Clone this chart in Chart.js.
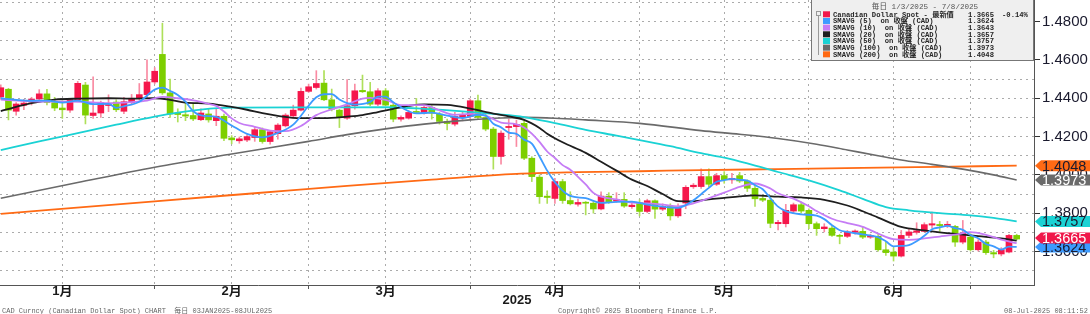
<!DOCTYPE html>
<html>
<head>
<meta charset="utf-8">
<script src="https://cdn.jsdelivr.net/npm/chart.js@4.4.0/dist/chart.umd.min.js"></script>
<style>
  html, body { margin: 0; padding: 0; background: #fff; }
  #wrap { width: 1090px; height: 314px; }
</style>
</head>
<body>
<div id="wrap"><canvas id="canvas" width="1090" height="314"></canvas></div>
<script>
// USD/CAD daily candles, 03 Jan 2025 .. 08 Jul 2025 (x = trading day index)
var openP = [
  1.4407,1.4447,1.4332,1.4363,1.4380,1.4396,1.4423,1.4377,1.4349,1.4338,
  1.4392,1.4469,1.4310,1.4323,1.4362,1.4380,1.4332,1.4378,1.4399,1.4419,
  1.4485,1.4629,1.4428,1.4322,1.4314,1.4310,1.4288,1.4318,1.4283,1.4306,
  1.4193,1.4178,1.4182,1.4195,1.4236,1.4174,1.4215,1.4256,1.4308,1.4338,
  1.4436,1.4456,1.4479,1.4392,1.4338,1.4296,1.4361,1.4441,1.4434,1.4369,
  1.4439,1.4364,1.4291,1.4296,1.4330,1.4322,1.4352,1.4317,1.4279,1.4265,
  1.4300,1.4305,1.4387,1.4300,1.4239,1.4096,1.4247,1.4252,1.4269,1.4087,
  1.3988,1.3889,1.3877,1.3965,1.3866,1.3847,1.3856,1.3852,1.3822,1.3889,
  1.3863,1.3872,1.3834,1.3856,1.3809,1.3865,1.3821,1.3835,1.3786,1.3853,
  1.3938,1.3939,1.3991,1.3951,1.3996,1.3974,1.3996,1.3968,1.3930,1.3877,
  1.3868,1.3745,1.3745,1.3811,1.3844,1.3815,1.3745,1.3719,1.3722,1.3684,
  1.3679,1.3700,1.3705,1.3675,1.3679,1.3609,1.3597,1.3576,1.3684,1.3700,
  1.3705,1.3738,1.3741,1.3736,1.3731,1.3649,1.3675,1.3609,1.3649,1.3594,
  1.3587,1.3597,1.3684
];
var highP = [
  1.4470,1.4452,1.4377,1.4395,1.4405,1.4445,1.4447,1.4405,1.4387,1.4396,
  1.4488,1.4483,1.4512,1.4385,1.4418,1.4392,1.4405,1.4420,1.4477,1.4600,
  1.4560,1.4792,1.4500,1.4345,1.4378,1.4370,1.4345,1.4344,1.4344,1.4318,
  1.4205,1.4198,1.4210,1.4250,1.4245,1.4232,1.4268,1.4320,1.4364,1.4453,
  1.4474,1.4544,1.4544,1.4448,1.4343,1.4498,1.4474,1.4521,1.4483,1.4451,
  1.4451,1.4378,1.4308,1.4334,1.4399,1.4361,1.4361,1.4326,1.4291,1.4326,
  1.4329,1.4396,1.4416,1.4317,1.4248,1.4230,1.4291,1.4286,1.4283,1.4095,
  1.4000,1.3917,1.3982,1.3977,1.3912,1.3873,1.3861,1.3861,1.3912,1.3907,
  1.3907,1.3907,1.3851,1.3870,1.3873,1.3870,1.3849,1.3849,1.3849,1.3944,
  1.3955,1.4031,1.4031,1.4008,1.4017,1.4008,1.4013,1.3974,1.3956,1.3894,
  1.3886,1.3762,1.3846,1.3853,1.3858,1.3823,1.3754,1.3745,1.3736,1.3690,
  1.3710,1.3713,1.3727,1.3690,1.3690,1.3649,1.3620,1.3710,1.3719,1.3750,
  1.3750,1.3806,1.3757,1.3757,1.3736,1.3762,1.3693,1.3662,1.3658,1.3606,
  1.3620,1.3690,1.3690
];
var lowP = [
  1.4395,1.4287,1.4312,1.4340,1.4365,1.4385,1.4365,1.4335,1.4295,1.4326,
  1.4387,1.4266,1.4295,1.4300,1.4330,1.4330,1.4320,1.4370,1.4390,1.4405,
  1.4475,1.4420,1.4300,1.4276,1.4283,1.4283,1.4283,1.4275,1.4257,1.4179,
  1.4162,1.4165,1.4173,1.4175,1.4165,1.4160,1.4187,1.4250,1.4300,1.4334,
  1.4430,1.4448,1.4387,1.4334,1.4247,1.4290,1.4343,1.4430,1.4361,1.4361,
  1.4361,1.4277,1.4280,1.4291,1.4322,1.4317,1.4291,1.4265,1.4235,1.4256,
  1.4282,1.4291,1.4291,1.4230,1.4030,1.4056,1.4186,1.4148,1.4080,1.3965,
  1.3851,1.3851,1.3851,1.3851,1.3843,1.3837,1.3791,1.3800,1.3817,1.3851,
  1.3856,1.3830,1.3825,1.3786,1.3802,1.3772,1.3813,1.3764,1.3778,1.3823,
  1.3929,1.3929,1.3939,1.3944,1.3956,1.3956,1.3960,1.3913,1.3835,1.3860,
  1.3724,1.3712,1.3728,1.3797,1.3800,1.3719,1.3684,1.3702,1.3679,1.3640,
  1.3672,1.3690,1.3667,1.3668,1.3602,1.3580,1.3550,1.3571,1.3672,1.3690,
  1.3702,1.3722,1.3705,1.3725,1.3626,1.3640,1.3602,1.3602,1.3585,1.3567,
  1.3577,1.3592,1.3660
];
var closeP = [
  1.4455,1.4338,1.4370,1.4375,1.4396,1.4423,1.4378,1.4349,1.4340,1.4393,
  1.4478,1.4312,1.4323,1.4377,1.4367,1.4340,1.4382,1.4400,1.4419,1.4485,
  1.4541,1.4428,1.4318,1.4315,1.4307,1.4292,1.4323,1.4287,1.4306,1.4191,
  1.4183,1.4188,1.4200,1.4236,1.4174,1.4225,1.4260,1.4312,1.4338,1.4436,
  1.4460,1.4477,1.4392,1.4343,1.4300,1.4361,1.4439,1.4434,1.4369,1.4439,
  1.4364,1.4291,1.4300,1.4326,1.4326,1.4352,1.4322,1.4279,1.4268,1.4305,
  1.4312,1.4387,1.4300,1.4239,1.4096,1.4218,1.4253,1.4264,1.4087,1.3991,
  1.3886,1.3882,1.3965,1.3866,1.3849,1.3856,1.3852,1.3822,1.3889,1.3860,
  1.3872,1.3837,1.3842,1.3809,1.3865,1.3821,1.3835,1.3786,1.3835,1.3935,
  1.3946,1.3991,1.3951,1.3996,1.3974,1.3982,1.3968,1.3930,1.3875,1.3868,
  1.3747,1.3752,1.3815,1.3844,1.3811,1.3745,1.3719,1.3728,1.3684,1.3679,
  1.3702,1.3707,1.3675,1.3682,1.3609,1.3594,1.3576,1.3684,1.3702,1.3708,
  1.3740,1.3745,1.3735,1.3742,1.3649,1.3696,1.3609,1.3649,1.3594,1.3587,
  1.3609,1.3684,1.3665
];

// moving averages at these trading-day indexes
var sma5Idx = [0,2,4,6,8,10,12,14,15,16,18,20,21,22,23,24,25,26,28,30,32,34,36,38,40,41,42,43,44,45,46,48,49,50,51,52,54,56,58,60,62,63,64,65,66,67,68,69,70,71,72,73,74,76,78,80,82,84,86,88,89,90,91,92,93,94,95,96,97,98,99,100,101,102,104,106,107,108,109,110,112,114,115,116,117,118,119,120,121,122,123,124,125,126,127,128,129,130,131,132];
var sma5Val = [1.4400,1.4392,1.4387,1.4388,1.4377,1.4388,1.4369,1.4371,1.4350,1.4358,1.4382,1.4445,1.4455,1.4438,1.4417,1.4382,1.4332,1.4311,1.4303,1.4258,1.4214,1.4196,1.4219,1.4262,1.4361,1.4405,1.4421,1.4422,1.4394,1.4375,1.4367,1.4381,1.4408,1.4409,1.4379,1.4353,1.4321,1.4325,1.4309,1.4297,1.4314,1.4309,1.4267,1.4248,1.4221,1.4214,1.4184,1.4163,1.4096,1.4022,1.3962,1.3918,1.3890,1.3878,1.3854,1.3859,1.3860,1.3845,1.3834,1.3828,1.3842,1.3867,1.3899,1.3932,1.3964,1.3972,1.3979,1.3974,1.3970,1.3946,1.3925,1.3878,1.3834,1.3811,1.3794,1.3787,1.3769,1.3737,1.3711,1.3702,1.3689,1.3675,1.3653,1.3627,1.3629,1.3633,1.3653,1.3682,1.3716,1.3726,1.3734,1.3722,1.3713,1.3686,1.3669,1.3639,1.3627,1.3610,1.3625,1.3624];

var sma10Idx = [0,3,6,9,12,14,17,19,21,23,25,27,28,29,30,31,33,35,37,39,41,43,45,47,48,50,52,55,57,59,61,63,65,67,68,69,70,71,72,73,74,75,76,77,78,80,82,84,86,88,90,92,94,96,98,100,101,103,105,106,108,110,112,114,116,118,120,122,124,126,128,130,132];
var sma10Val = [1.4393,1.4386,1.4382,1.4382,1.4379,1.4374,1.4380,1.4388,1.4407,1.4400,1.4389,1.4371,1.4360,1.4331,1.4295,1.4271,1.4251,1.4231,1.4228,1.4255,1.4312,1.4342,1.4368,1.4398,1.4402,1.4392,1.4364,1.4364,1.4337,1.4313,1.4318,1.4309,1.4273,1.4264,1.4247,1.4215,1.4172,1.4122,1.4088,1.4051,1.4027,1.3990,1.3950,1.3906,1.3886,1.3872,1.3855,1.3851,1.3845,1.3836,1.3851,1.3878,1.3907,1.3937,1.3955,1.3929,1.3904,1.3876,1.3836,1.3811,1.3771,1.3748,1.3729,1.3693,1.3664,1.3661,1.3668,1.3678,1.3688,1.3701,1.3687,1.3662,1.3643];

var sma20Idx = [0,2,4,7,10,14,17,20,22,24,27,30,32,34,36,39,42,45,47,49,51,53,55,58,61,64,66,68,70,71,73,76,78,80,82,84,86,88,90,92,94,96,98,101,104,107,110,112,114,117,120,122,124,127,130,132];
var sma20Val = [1.4333,1.4355,1.4375,1.4393,1.4398,1.4400,1.4398,1.4400,1.4392,1.4377,1.4372,1.4355,1.4340,1.4322,1.4308,1.4296,1.4296,1.4304,1.4312,1.4328,1.4345,1.4360,1.4368,1.4365,1.4346,1.4320,1.4305,1.4287,1.4245,1.4215,1.4170,1.4115,1.4068,1.4022,1.3975,1.3942,1.3900,1.3863,1.3862,1.3872,1.3880,1.3888,1.3893,1.3886,1.3882,1.3870,1.3840,1.3810,1.3777,1.3728,1.3710,1.3700,1.3692,1.3680,1.3668,1.3657];

var sma50Idx = [0,5,10,15,20,23,26,30,40,50,55,60,64,68,72,76,80,83,87,91,94,97,101,105,109,112,115,118,122,126,129,132];
var sma50Val = [1.4129,1.4175,1.4218,1.4262,1.4304,1.4325,1.4341,1.4351,1.4352,1.4353,1.4345,1.4332,1.4318,1.4302,1.4270,1.4235,1.4205,1.4182,1.4150,1.4113,1.4090,1.4060,1.4015,1.3971,1.3919,1.3875,1.3832,1.3815,1.3800,1.3789,1.3775,1.3757];

var sma100Idx = [0,10,20,30,40,45,50,55,61,65,68,72,76,83,91,96,101,106,110,114,117,121,125,129,132];
var sma100Val = [1.3878,1.3960,1.4040,1.4109,1.4175,1.4210,1.4240,1.4265,1.4287,1.4297,1.4300,1.4296,1.4287,1.4269,1.4231,1.4212,1.4190,1.4160,1.4130,1.4100,1.4078,1.4055,1.4030,1.4000,1.3973];

var sma200Idx = [0,20,33,45,56,67,75,83,91,101,112,122,132];
var sma200Val = [1.3796,1.3862,1.3904,1.3943,1.3975,1.4005,1.4014,1.4019,1.4025,1.4030,1.4036,1.4042,1.4048];

// legend rows and latest values
var legendNames = ['Canadian Dollar Spot - 最新價','SMAVG (5)  on 收盤 (CAD)','SMAVG (10)  on 收盤 (CAD)','SMAVG (20)  on 收盤 (CAD)','SMAVG (50)  on 收盤 (CAD)','SMAVG (100)  on 收盤 (CAD)','SMAVG (200)  on 收盤 (CAD)'];
var lastValues = [1.3665, 1.3624, 1.3643, 1.3657, 1.3757, 1.3973, 1.4048];
var lastChange = '-0.14%';

// x axis: month middles carry the label, month ends carry a tick mark
var monthMid = [8, 30, 50, 72, 94, 116];
var monthEnd = [20, 40, 61, 83, 105, 126];
var monthNames = ['1月','2月','3月','4月','5月','6月'];

var colors = {
  up: '#f5174b', down: '#7dcf00', upWick: '#f98aa2', downWick: '#aee05a',
  spot: '#f0174a', s5: '#3d9bff', s10: '#c57cf5', s20: '#1e1e1e',
  s50: '#1ad2d4', s100: '#6a6a6a', s200: '#ff6a14'
};
var seriesColors = [colors.spot, colors.s5, colors.s10, colors.s20, colors.s50, colors.s100, colors.s200];

function pts(idx, val) {
  return idx.map(function (x, k) { return {x: x, y: val[k]}; });
}
function lineSet(idx, val, color, width, order) {
  return {
    type: 'line', data: pts(idx, val), borderColor: color, borderWidth: width,
    pointRadius: 0, cubicInterpolationMode: 'monotone', order: order, fill: false
  };
}

var isUp = openP.map(function (o, i) { return closeP[i] >= o; });

var bbgOverlay = {
  id: 'bbgOverlay',
  afterDraw: function (chart) {
    var ctx = chart.ctx;
    var y = chart.scales.y;
    ctx.save();

    // value tags on the right axis; nudge tags that sit too close together
    var tags = [
      {v: lastValues[6], bg: colors.s200, fg: '#1a1a2e'},
      {v: lastValues[5], bg: colors.s100, fg: '#ffffff'},
      {v: lastValues[4], bg: colors.s50, fg: '#1a1a2e'},
      {v: lastValues[1], bg: colors.s5, fg: '#1a1a2e'},
      {v: lastValues[0], bg: colors.spot, fg: '#ffffff'}
    ];
    tags.forEach(function (t) { t.py = y.getPixelForValue(t.v); });
    var sorted = tags.slice().sort(function (a, b) { return b.py - a.py; });
    for (var s = 1; s < sorted.length; s++) {
      if (sorted[s].py > sorted[s - 1].py - 9) sorted[s].py = sorted[s - 1].py - 9;
    }
    ctx.font = '14.5px "Liberation Sans", Arial, sans-serif';
    ctx.textBaseline = 'middle';
    ctx.textAlign = 'left';
    tags.forEach(function (t) {
      var py = t.py;
      ctx.fillStyle = t.bg;
      ctx.beginPath();
      ctx.moveTo(1035, py);
      ctx.lineTo(1041, py - 5.5);
      ctx.lineTo(1090, py - 5.5);
      ctx.lineTo(1090, py + 5.5);
      ctx.lineTo(1041, py + 5.5);
      ctx.closePath();
      ctx.fill();
      ctx.fillStyle = t.fg;
      ctx.fillText(t.v.toFixed(4), 1042, py + 1);
    });

    // legend box
    var bx = 811, by = 0, bw = 223, bh = 61;
    ctx.fillStyle = '#efefef';
    ctx.fillRect(bx, by, bw, bh);
    ctx.strokeStyle = '#777';
    ctx.lineWidth = 1;
    ctx.strokeRect(bx + 0.5, by - 0.5, bw - 1, bh);
    ctx.font = '7.6px "Liberation Mono", "Noto Sans CJK TC", monospace';
    ctx.fillStyle = '#555';
    ctx.textAlign = 'center';
    ctx.fillText('毎日 1/3/2025 - 7/8/2025', 925, 7);
    // little tree marker
    ctx.strokeStyle = '#999';
    ctx.strokeRect(816.5, 11.5, 4, 4);
    ctx.beginPath();
    ctx.moveTo(818.5, 16); ctx.lineTo(818.5, 55);
    ctx.stroke();
    ctx.font = 'bold 7.2px "Liberation Mono", "Noto Sans CJK TC", monospace';
    for (var k = 0; k < legendNames.length; k++) {
      var ry = 14.3 + k * 6.67;
      ctx.fillStyle = seriesColors[k];
      ctx.fillRect(823, ry - 3, 7, 6);
      ctx.fillStyle = '#262626';
      ctx.textAlign = 'left';
      ctx.fillText(legendNames[k], 833, ry + 0.5);
      ctx.textAlign = 'right';
      ctx.fillText(lastValues[k].toFixed(4), 994, ry + 0.5);
    }
    ctx.textAlign = 'left';
    ctx.fillText(lastChange, 1002, 14.8);

    // footer
    ctx.font = '7px "Liberation Mono", "Noto Sans CJK JP", monospace';
    ctx.fillStyle = '#666';
    ctx.textAlign = 'left';
    ctx.fillText('CAD Curncy (Canadian Dollar Spot) CHART  毎日 03JAN2025-08JUL2025', 2, 311);
    ctx.fillText('Copyright\u00a9 2025 Bloomberg Finance L.P.', 558, 311);
    ctx.textAlign = 'right';
    ctx.fillText('08-Jul-2025 08:11:52', 1088, 311);
    ctx.restore();
  }
};

var ctx = document.getElementById('canvas').getContext('2d');
var chart = new Chart(ctx, {
  type: 'bar',
  data: {
    datasets: [
      lineSet(sma5Idx, sma5Val, colors.s5, 1.8, 1),
      lineSet(sma10Idx, sma10Val, colors.s10, 1.8, 2),
      lineSet(sma20Idx, sma20Val, colors.s20, 1.8, 3),
      lineSet(sma50Idx, sma50Val, colors.s50, 1.8, 4),
      lineSet(sma100Idx, sma100Val, colors.s100, 1.6, 5),
      lineSet(sma200Idx, sma200Val, colors.s200, 1.8, 6),
      {
        type: 'bar',
        data: openP.map(function (o, i) { return {x: i, y: [o, closeP[i]]}; }),
        backgroundColor: isUp.map(function (u) { return u ? colors.up : colors.down; }),
        barThickness: 6, minBarLength: 1, grouped: false, order: 8, borderWidth: 0
      },
      {
        type: 'bar',
        data: lowP.map(function (l, i) { return {x: i, y: [l, highP[i]]}; }),
        backgroundColor: isUp.map(function (u) { return u ? colors.upWick : colors.downWick; }),
        barThickness: 1, grouped: false, order: 9, borderWidth: 0
      }
    ]
  },
  options: {
    responsive: false,
    animation: false,
    devicePixelRatio: 1,
    layout: {padding: 0},
    plugins: {legend: {display: false}, tooltip: {enabled: false}},
    scales: {
      x: {
        type: 'linear',
        min: -0.1,
        max: 134.25,
        offset: false,
        afterFit: function (s) {
          s.height = 29;
          s.paddingLeft = 0; s.paddingRight = 0;
        },
        afterBuildTicks: function (s) {
          s.ticks = monthMid.concat(monthEnd).sort(function (a, b) { return a - b; })
            .map(function (v) { return {value: v}; });
        },
        ticks: {
          autoSkip: false, maxRotation: 0, minRotation: 0, padding: -4,
          color: '#1a1a1a',
          font: {family: '"Liberation Sans", "Noto Sans CJK JP", sans-serif', size: 13, weight: 'bold', lineHeight: 1},
          callback: function (v) {
            var m = monthMid.indexOf(v);
            return m >= 0 ? monthNames[m] : '';
          }
        },
        grid: {
          offset: false, color: '#ababab', lineWidth: 1, drawTicks: true, tickLength: 4,
          tickColor: function (c) { return c.tick && monthEnd.indexOf(c.tick.value) >= 0 ? '#555' : 'rgba(0,0,0,0)'; }
        },
        border: {display: true, color: '#555', width: 1, dash: [2, 4]},
        title: {
          display: true, text: '2025', color: '#1a1a1a',
          font: {family: '"Liberation Sans", sans-serif', size: 13, weight: 'bold', lineHeight: 1.2},
          padding: {top: 0, bottom: 6}
        }
      },
      y: {
        position: 'right',
        min: 1.3425,
        max: 1.4913,
        beginAtZero: false,
        afterFit: function (s) {
          s.width = 56;
          s.paddingTop = 0; s.paddingBottom = 0;
        },
        ticks: {
          stepSize: 0.01, includeBounds: false, autoSkip: false, padding: 2, color: '#1a1a2e',
          font: {family: '"Liberation Sans", Arial, sans-serif', size: 15},
          callback: function (v) { return Math.round(v * 100) % 2 === 0 ? v.toFixed(4) : ''; }
        },
        grid: {
          color: '#ababab', lineWidth: 1, drawTicks: true, tickLength: 6,
          tickColor: function (c) { return c.tick && Math.round(c.tick.value * 100) % 2 === 0 ? '#333' : 'rgba(0,0,0,0)'; }
        },
        border: {display: true, color: '#555', width: 1, dash: [2, 4]}
      }
    }
  },
  plugins: [bbgOverlay]
});
</script>
</body>
</html>
